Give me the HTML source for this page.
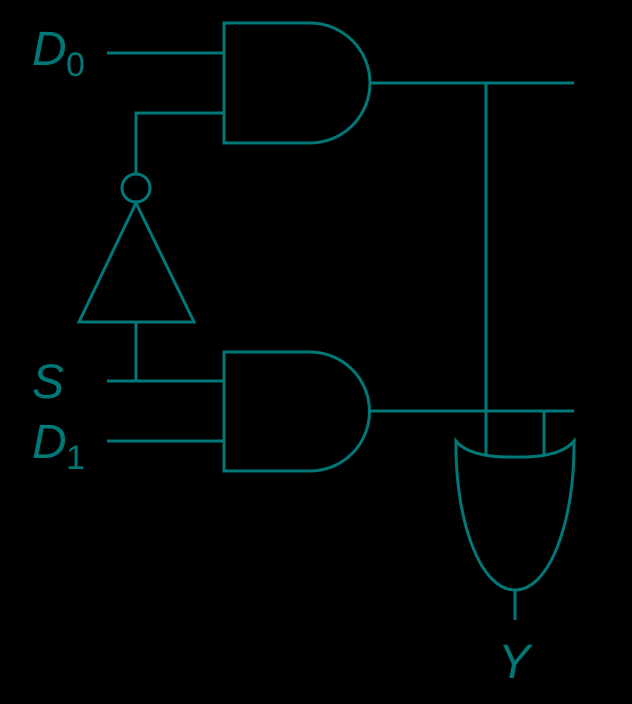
<!DOCTYPE html>
<html><head><style>
html,body{margin:0;padding:0;background:#000;}
svg{display:block}
text{font-family:"Liberation Sans",sans-serif;fill:#007878;}
</style></head><body>
<svg width="632" height="704" viewBox="0 0 632 704" xmlns="http://www.w3.org/2000/svg">
<g fill="none" stroke="#007878" stroke-width="3">
<path d="M224,23 H310 A60,60 0 0 1 310,143 H224 Z"/>
<path d="M224,352 H310 A59.5,59.5 0 0 1 310,471 H224 Z"/>
<line x1="107" y1="53" x2="224" y2="53"/>
<path d="M224,113 H136 V174"/>
<circle cx="136" cy="188" r="14"/>
<path d="M136,203 L194,322 H79 Z"/>
<path d="M136,322 V381"/>
<line x1="107" y1="381" x2="224" y2="381"/>
<line x1="107" y1="441" x2="224" y2="441"/>
<line x1="369" y1="83" x2="574" y2="83"/>
<line x1="369" y1="411" x2="574" y2="411"/>
<line x1="486" y1="83" x2="486" y2="454"/>
<line x1="544" y1="411" x2="544" y2="454"/>
<path d="M456,441 Q470,458 515,457 Q560,458 574,441 C575,520 550,590 515,590 C480,590 455,520 456,441 Z"/>
<line x1="515" y1="590" x2="515" y2="620"/>
</g>
<text x="32" y="65" font-size="48" font-style="italic">D</text>
<text x="66" y="76" font-size="34">0</text>
<text x="32" y="398" font-size="48" font-style="italic">S</text>
<text x="32" y="458" font-size="48" font-style="italic">D</text>
<text x="66" y="469" font-size="34">1</text>
<text x="498" y="678" font-size="48" font-style="italic">Y</text>
</svg>
</body></html>
